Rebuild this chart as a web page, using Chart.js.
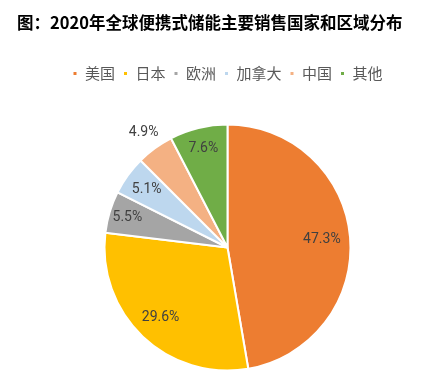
<!DOCTYPE html>
<html>
<head>
<meta charset="utf-8">
<script src="https://cdn.jsdelivr.net/npm/chart.js@4.4.1/dist/chart.umd.min.js"></script>
<style>
  html, body { margin: 0; padding: 0; background: #fff; overflow: hidden; }
  #wrap { position: relative; width: 426px; height: 378px; overflow: hidden; }
  #title {
    position: absolute; left: 17px; top: 12px;
    font: bold 16.5px "Noto Sans CJK SC", sans-serif; line-height: 21px;
    color: #000; white-space: nowrap;
  }
  #cv { position: absolute; left: 0; top: 0; }
</style>
</head>
<body>
<div id="wrap">
  <canvas id="cv" width="426" height="404"></canvas>
  <div id="title">图：2020年全球便携式储能主要销售国家和区域分布</div>
</div>
<script>
// 2020年便携式储能销售区域占比
const regions = ["美国", "日本", "欧洲", "加拿大", "中国", "其他"];
const shares = [47.3, 29.6, 5.5, 5.1, 4.9, 7.6];
const colors = ["#ED7D31", "#FFC000", "#A5A5A5", "#BDD7EE", "#F4B183", "#70AD47"];
// how far from the centre each label sits (fraction of radius)
const labelPos = [0.77, 0.79, 0.85, 0.81, 1.155, 0.83];

const pctLabels = {
  id: "pctLabels",
  afterDatasetsDraw(chart) {
    const ctx = chart.ctx;
    const meta = chart.getDatasetMeta(0);
    ctx.save();
    ctx.font = "14px Roboto, sans-serif";
    ctx.fillStyle = "#404040";
    ctx.textAlign = "center";
    ctx.textBaseline = "middle";
    meta.data.forEach((arc, i) => {
      const p = arc.getProps(["x", "y", "startAngle", "endAngle", "outerRadius"], true);
      const mid = (p.startAngle + p.endAngle) / 2;
      const r = p.outerRadius * labelPos[i];
      ctx.fillText(shares[i].toFixed(1) + "%", p.x + Math.cos(mid) * r, p.y + Math.sin(mid) * r);
    });
    ctx.restore();
  }
};

new Chart(document.getElementById("cv").getContext("2d"), {
  type: "pie",
  data: {
    labels: regions,
    datasets: [{
      data: shares,
      backgroundColor: colors,
      borderColor: "#fff",
      borderWidth: 2,
      radius: 123
    }]
  },
  options: {
    responsive: false,
    animation: false,
    layout: { padding: { left: 29, top: 58, right: 0, bottom: 0 } },
    plugins: {
      legend: {
        position: "top",
        labels: {
          boxWidth: 5,
          boxHeight: 5,
          padding: 8,
          color: "#595959",
          font: { size: 15, family: "'Noto Sans CJK SC', sans-serif" }
        }
      },
      tooltip: { enabled: false }
    }
  },
  plugins: [pctLabels]
});
</script>
</body>
</html>
